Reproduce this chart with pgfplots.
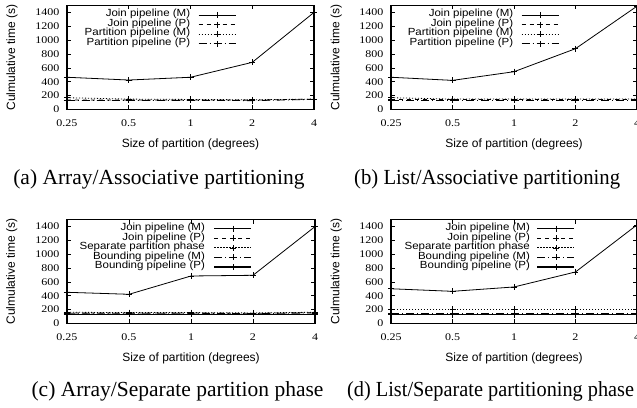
\documentclass[border=0pt]{standalone}
\usepackage{fontspec}
\setmainfont{Liberation Serif}
\setsansfont{Liberation Sans}
\usepackage{graphicx}
\usepackage{pgfplots}
\pgfplotsset{compat=1.18}
\newcommand\sqt[1]{\scalebox{1}[0.85]{#1}}
\newcommand\sql[1]{\scalebox{1}[0.9]{#1}}
\pgfplotsset{
 mybase/.style={
  scale only axis, height=104pt,
  xmin=0.25, xmax=4,
  ymin=0, ymax=1500,
  xtick={0.25,0.5,1,2,4},
  xticklabels={\sqt{0.25},\sqt{0.5},\sqt{1},\sqt{2},\sqt{4}},
  xminorticks=false, yminorticks=false,
  ytick={0,200,400,600,800,1000,1200,1400},
  yticklabels={\sqt{0},\sqt{200},\sqt{400},\sqt{600},\sqt{800},\sqt{1000},\sqt{1200},\sqt{1400}},
  tick align=inside, major tick length=4pt,
  tick style={line width=0.6pt, black},
  axis line style={line width=1.2pt},
  tick label style={font=\fontsize{12}{12}\selectfont},
  xticklabel style={anchor=base, yshift=-16.8pt},
  yticklabel style={anchor=east, inner sep=0pt, xshift=-7.5pt},
  label style={font=\sffamily\fontsize{12}{12}\selectfont},
  xlabel={Size of partition (degrees)},
  ylabel={Culmulative time (s)},
  xlabel style={at={(axis description cs:0.5,-0.335)}, anchor=center},
  ylabel style={at={(axis description cs:-0.2227,0.5)}, anchor=center},
  legend style={draw=none, fill=none, inner sep=0pt, outer sep=0pt,
    font=\sffamily\fontsize{11.5}{11.5}\selectfont,
    nodes={inner sep=0pt, text height=6.6pt, text depth=3pt},
    column sep=8pt, row sep=0pt},
  legend cell align=right, legend plot pos=right,
  legend image code/.code={\draw[mark repeat=2,mark phase=2] plot coordinates {(0pt,0pt)(18.5pt,0pt)(37pt,0pt)};},
  every axis plot/.append style={black, line width=0.8pt, mark=+, mark size=3pt, mark options={solid, line width=0.6pt}},
 },
 sJM/.style={solid},
 sJP/.style={dash pattern=on 4pt off 4pt},
 sDot/.style={dash pattern=on 1.2pt off 1.8pt},
 sDD/.style={dash pattern=on 8pt off 3pt on 1pt off 3pt},
 sBP/.style={solid, line width=1.1pt},
}
\begin{document}
\begin{tikzpicture}
\path[use as bounding box] (0pt,0pt) rectangle (637pt,407pt);
% (a)
\begin{axis}[xmode=log, log basis x=2, mybase, width=247pt, at={(67pt,297.5pt)}, anchor=south west,
  legend style={at={(axis description cs:0.684,0.955)}, anchor=north east}]
\addplot[sJM] coordinates {(0.25,465)(0.5,425)(1,465)(2,680)(4,1400)};
\addlegendentry{\sql{Join pipeline (M)}}
\addplot[sJP] coordinates {(0.25,137)(0.5,137)(1,137)(2,135)(4,150)};
\addlegendentry{\sql{Join pipeline (P)}}
\addplot[sDot] coordinates {(0.25,170)(0.5,150)(1,145)(2,140)(4,150)};
\addlegendentry{\sql{Partition pipeline (M)}}
\addplot[sDD] coordinates {(0.25,130)(0.5,130)(1,130)(2,128)(4,145)};
\addlegendentry{\sql{Partition pipeline (P)}}
\end{axis}
% (b)
\begin{axis}[xmode=log, log basis x=2, mybase, width=246pt, at={(391pt,297.5pt)}, anchor=south west,
  legend style={at={(axis description cs:0.683,0.955)}, anchor=north east}]
\addplot[sJM] coordinates {(0.25,465)(0.5,420)(1,545)(2,877)(4,1490)};
\addlegendentry{\sql{Join pipeline (M)}}
\addplot[sJP] coordinates {(0.25,140)(0.5,140)(1,140)(2,140)(4,140)};
\addlegendentry{\sql{Join pipeline (P)}}
\addplot[sDot] coordinates {(0.25,170)(0.5,150)(1,150)(2,150)(4,150)};
\addlegendentry{\sql{Partition pipeline (M)}}
\addplot[sDD] coordinates {(0.25,130)(0.5,130)(1,130)(2,130)(4,130)};
\addlegendentry{\sql{Partition pipeline (P)}}
\end{axis}
% (c)
\begin{axis}[xmode=log, log basis x=2, mybase, width=248pt, height=103.6pt, at={(67pt,83.7pt)}, anchor=south west,
  legend style={at={(axis description cs:0.746,0.96)}, anchor=north east, column sep=9pt}]
\addplot[sJM] coordinates {(0.25,449)(0.5,420)(1,685)(2,695)(4,1400)};
\addlegendentry{\sql{Join pipeline (M)}}
\addplot[sJP] coordinates {(0.25,150)(0.5,150)(1,150)(2,145)(4,155)};
\addlegendentry{\sql{Join pipeline (P)}}
\addplot[sDot] coordinates {(0.25,160)(0.5,155)(1,155)(2,150)(4,160)};
\addlegendentry{\sql{Separate partition phase}}
\addplot[sDD] coordinates {(0.25,145)(0.5,145)(1,145)(2,140)(4,150)};
\addlegendentry{\sql{Bounding pipeline (M)}}
\addplot[sBP] coordinates {(0.25,130)(0.5,130)(1,130)(2,130)(4,130)};
\addlegendentry{\sql{Bounding pipeline (P)}}
\end{axis}
% (d)
\begin{axis}[xmode=log, log basis x=2, mybase, width=246pt, height=103.6pt, at={(391pt,83.7pt)}, anchor=south west,
  legend style={at={(axis description cs:0.748,0.96)}, anchor=north east, column sep=7pt}]
\addplot[sJM] coordinates {(0.25,500)(0.5,463)(1,526)(2,743)(4,1425)};
\addlegendentry{\sql{Join pipeline (M)}}
\addplot[sJP] coordinates {(0.25,135)(0.5,135)(1,135)(2,135)(4,135)};
\addlegendentry{\sql{Join pipeline (P)}}
\addplot[sDot] coordinates {(0.25,203)(0.5,203)(1,203)(2,203)(4,203)};
\addlegendentry{\sql{Separate partition phase}}
\addplot[sDD] coordinates {(0.25,145)(0.5,145)(1,145)(2,145)(4,145)};
\addlegendentry{\sql{Bounding pipeline (M)}}
\addplot[sBP] coordinates {(0.25,125)(0.5,125)(1,125)(2,125)(4,125)};
\addlegendentry{\sql{Bounding pipeline (P)}}
\end{axis}
\node[font=\fontsize{21.5}{21.5}\selectfont, anchor=base] at (159pt,222pt) {(a) Array/Associative partitioning};
\node[font=\fontsize{21.5}{21.5}\selectfont, anchor=base west, inner sep=0pt] at (354pt,222pt) {\scalebox{0.964}[1]{(b) List/Associative partitioning}};
\node[font=\fontsize{21.5}{21.5}\selectfont, anchor=base] at (177.5pt,10.3pt) {(c) Array/Separate partition phase};
\node[font=\fontsize{21.5}{21.5}\selectfont, anchor=base west, inner sep=0pt] at (347pt,10.3pt) {\scalebox{0.944}[1]{(d) List/Separate partitioning phase}};
\end{tikzpicture}
\end{document}
